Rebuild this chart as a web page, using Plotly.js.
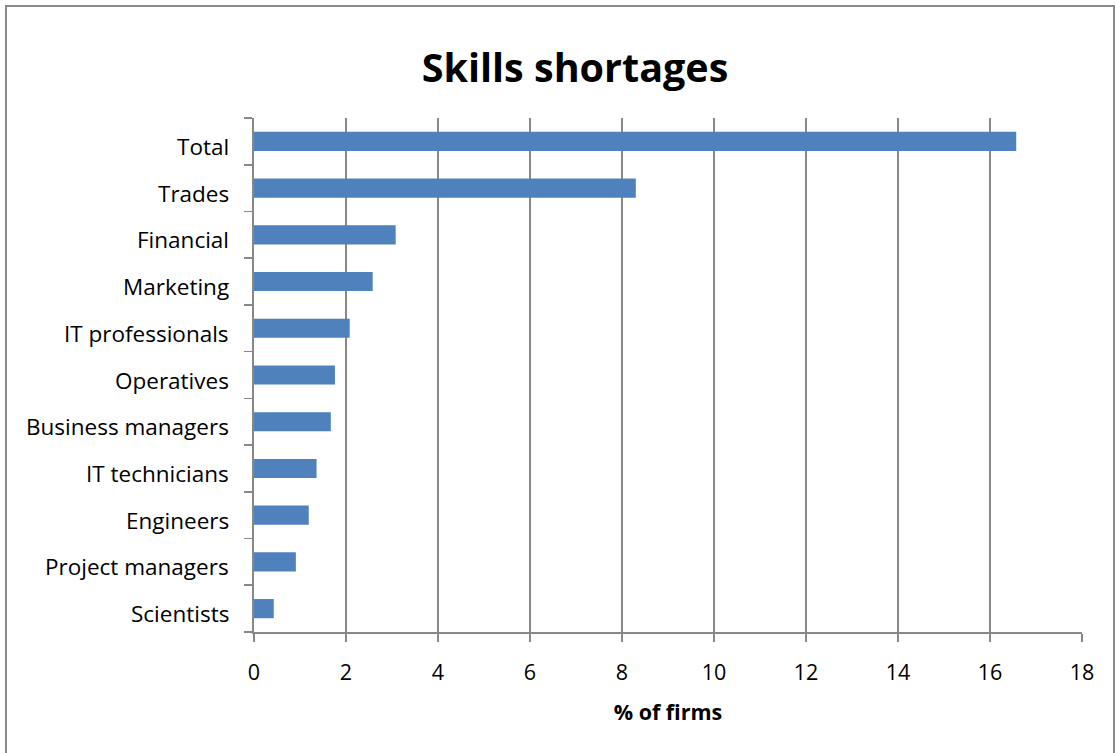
<!DOCTYPE html>
<html>
<head>
<meta charset="utf-8">
<script src="https://cdn.plot.ly/plotly-3.0.1.min.js"></script>
<style>
html,body{margin:0;padding:0;background:#fff;overflow:hidden;}
#wrap{position:relative;width:1115px;height:753px;}
#chart{position:absolute;left:0;top:0;width:1115px;height:753px;}
#frame{position:absolute;left:5px;top:5px;width:1106px;height:760px;border:2px solid #8a8a8a;pointer-events:none;}
</style>
</head>
<body>
<div id="wrap"><div id="chart"></div><div id="frame"></div></div>
<script>
const categories = ["Total","Trades","Financial","Marketing","IT professionals","Operatives","Business managers","IT technicians","Engineers","Project managers","Scientists"];
const values = [16.57, 8.30, 3.08, 2.58, 2.08, 1.76, 1.67, 1.36, 1.19, 0.91, 0.43];
const xTickVals = [0,2,4,6,8,10,12,14,16,18];
const chartTitle = "Skills shortages";
const xTitle = "% of firms";

const FONT = "'Open Sans', Lato, 'Liberation Sans', sans-serif";

const trace = {
  type: "bar",
  orientation: "h",
  y: categories,
  x: values,
  marker: {color: "#4f81bd", line: {width: 0}},
  hoverinfo: "x+y"
};

// category labels drawn as annotations so they can sit slightly low, as in the reference
const labelAnnotations = categories.map(c => ({
  text: c,
  xref: "paper", x: 0, xanchor: "right", xshift: -23,
  yref: "y", y: c, yanchor: "middle", yshift: -5,
  showarrow: false,
  font: {family: FONT, size: 22.5, color: "#000"}
}));

const layout = {
  width: 1115,
  height: 753,
  paper_bgcolor: "rgba(0,0,0,0)",
  plot_bgcolor: "#fff",
  margin: {l: 254, r: 33, t: 118, b: 121},
  showlegend: false,
  bargap: 0.59,
  title: {
    text: "<b>" + chartTitle + "</b>",
    font: {family: FONT, size: 39.5, color: "#000"},
    x: 575/1115, xref: "container", xanchor: "center",
    y: 1 - 68/753, yref: "container", yanchor: "middle"
  },
  annotations: labelAnnotations,
  xaxis: {
    range: [0, 18],
    tickvals: xTickVals,
    ticktext: xTickVals.map(String),
    showgrid: true,
    gridcolor: "#888888",
    gridwidth: 1.6,
    zeroline: false,
    showline: true,
    linecolor: "#888888",
    linewidth: 1.6,
    ticks: "outside",
    ticklen: 8,
    tickwidth: 1.6,
    tickcolor: "#888888",
    tickfont: {family: FONT, size: 21.5, color: "#000"},
    ticklabelstandoff: 13,
    title: {text: "<b>" + xTitle + "</b>", font: {family: FONT, size: 21.5, color: "#000"}, standoff: 19},
    fixedrange: true
  },
  yaxis: {
    type: "category",
    categoryorder: "array",
    categoryarray: categories.slice().reverse(),
    autorange: true,
    showgrid: false,
    zeroline: false,
    showline: true,
    linecolor: "#888888",
    linewidth: 1.6,
    ticks: "outside",
    tickson: "boundaries",
    ticklen: 8,
    tickwidth: 1.6,
    tickcolor: "#888888",
    showticklabels: false,
    fixedrange: true
  }
};

Plotly.newPlot("chart", [trace], layout, {displayModeBar: false, staticPlot: true});
</script>
</body>
</html>
